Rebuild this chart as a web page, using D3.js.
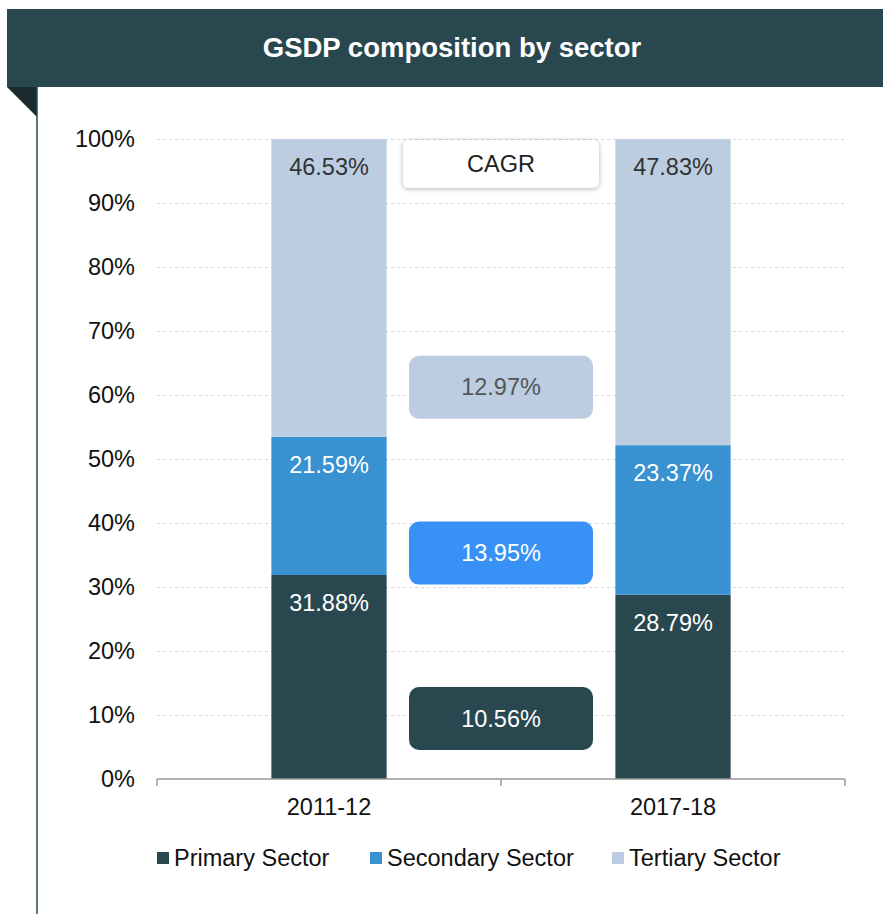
<!DOCTYPE html>
<html lang="en">
<head>
<meta charset="UTF-8"/>
<script src="https://d3js.org/d3.v7.min.js"></script>
<style>
  body { margin: 0; background: #fff; font-family: 'Liberation Sans', Arial, sans-serif; }
  svg { display: block; }
  .grid line { stroke: #d9d9d9; stroke-dasharray: 3 3; }
  .grid path { stroke-width: 0; }
  text { font-family: 'Liberation Sans', Arial, sans-serif; }
</style>
</head>
<body>
<svg width="883" height="914"></svg>
<script>
// data
const years = ['2011-12', '2017-18'];
const sectors = ['Primary Sector', 'Secondary Sector', 'Tertiary Sector'];
const primary = [31.88, 28.79];
const secondary = [21.59, 23.37];
const tertiary = [46.53, 47.83];
const cagr = [10.56, 13.95, 12.97];   // primary, secondary, tertiary
const yTicks = [0, 10, 20, 30, 40, 50, 60, 70, 80, 90, 100];

const colors = ['#29474f', '#3891d1', '#bccde2'];
const cagrColors = ['#29474f', '#3891f5', '#bccde2'];
const labelColors = ['#ffffff', '#ffffff', '#333333'];

const svg = d3.select('svg');

// header band
svg.append('rect').attr('x', 7).attr('y', 9).attr('width', 876).attr('height', 78).attr('fill', '#29474f');
svg.append('polygon').attr('points', '7,87 37,87 37,117').attr('fill', '#1a2b30');
svg.append('line').attr('x1', 37).attr('x2', 37).attr('y1', 87).attr('y2', 914)
  .attr('stroke', '#29474f').attr('stroke-width', 1.5);
svg.append('text')
  .attr('x', 452).attr('y', 57)
  .attr('text-anchor', 'middle')
  .attr('fill', '#fff')
  .style('font-size', '27.5px').style('font-weight', 'bold')
  .text('GSDP composition by sector');

const plotLeft = 157, plotRight = 845, plotTop = 139, plotBottom = 779;

const x = d3.scaleBand().domain(years).range([plotLeft, plotRight]).padding(0);
const y = d3.scaleLinear().domain([0, 100]).range([plotBottom, plotTop]);
const barW = x.bandwidth() * 0.335;

// grid
svg.append('g')
  .attr('class', 'grid')
  .attr('transform', `translate(${plotLeft},0)`)
  .call(d3.axisLeft(y).tickValues(yTicks.slice(1)).tickSize(-(plotRight - plotLeft)).tickFormat(''));

// y labels
svg.append('g').selectAll('text')
  .data(yTicks)
  .join('text')
  .attr('x', 135)
  .attr('y', d => y(d) + 8)
  .attr('text-anchor', 'end')
  .attr('fill', '#111')
  .style('font-size', '23.5px')
  .text(d => d + '%');

// stacked bars
const table = years.map((yr, i) => ({ year: yr, p: primary[i], s: secondary[i], t: tertiary[i] }));
const stack = d3.stack().keys(['p', 's', 't'])(table);

stack.forEach((layer, k) => {
  const g = svg.append('g');
  g.selectAll('rect')
    .data(layer)
    .join('rect')
    .attr('x', d => x(d.data.year) + (x.bandwidth() - barW) / 2)
    .attr('y', d => y(d[1]))
    .attr('width', barW)
    .attr('height', d => y(d[0]) - y(d[1]))
    .attr('fill', colors[k]);
  g.selectAll('text')
    .data(layer)
    .join('text')
    .attr('x', d => x(d.data.year) + x.bandwidth() / 2)
    .attr('y', d => y(d[1]) + 36)
    .attr('text-anchor', 'middle')
    .attr('fill', labelColors[k])
    .style('font-size', '23.5px')
    .text(d => (d[1] - d[0]).toFixed(2) + '%');
});

// x axis
const xAxis = svg.append('g').attr('transform', `translate(0,${plotBottom})`);
xAxis.append('line').attr('x1', plotLeft).attr('x2', plotRight).attr('stroke', '#999').attr('stroke-width', 1.5);
xAxis.selectAll('.tk')
  .data([plotLeft, (plotLeft + plotRight) / 2, plotRight])
  .join('line')
  .attr('x1', d => d).attr('x2', d => d)
  .attr('y1', 0).attr('y2', 7)
  .attr('stroke', '#999').attr('stroke-width', 1.5);
xAxis.selectAll('text')
  .data(years)
  .join('text')
  .attr('x', d => x(d) + x.bandwidth() / 2)
  .attr('y', 36)
  .attr('text-anchor', 'middle')
  .attr('fill', '#111')
  .style('font-size', '23.5px')
  .text(d => d);

// CAGR boxes
const defs = svg.append('defs');
const f = defs.append('filter').attr('id', 'shadow').attr('x', '-20%').attr('y', '-30%').attr('width', '140%').attr('height', '160%');
f.append('feDropShadow').attr('dx', 0).attr('dy', 1).attr('stdDeviation', 2.5).attr('flood-color', '#000').attr('flood-opacity', 0.3);

const midX = (plotLeft + plotRight) / 2;
svg.append('rect')
  .attr('x', midX - 98).attr('y', y(96.1) - 24)
  .attr('width', 196).attr('height', 48)
  .attr('rx', 6)
  .attr('fill', '#fff')
  .attr('filter', 'url(#shadow)');
svg.append('text')
  .attr('x', midX).attr('y', y(96.1) + 8)
  .attr('text-anchor', 'middle')
  .attr('fill', '#222')
  .style('font-size', '23.5px')
  .text('CAGR');

const boxCenters = [9.45, 35.3, 61.2]; // layout, in axis units
const boxTextColors = ['#ffffff', '#ffffff', '#555555'];
const boxes = svg.append('g').selectAll('g')
  .data(cagr)
  .join('g');
boxes.append('rect')
  .attr('x', midX - 92)
  .attr('y', (d, i) => y(boxCenters[i]) - 31.5)
  .attr('width', 184).attr('height', 63)
  .attr('rx', 10)
  .attr('fill', (d, i) => cagrColors[i]);
boxes.append('text')
  .attr('x', midX)
  .attr('y', (d, i) => y(boxCenters[i]) + 8)
  .attr('text-anchor', 'middle')
  .attr('fill', (d, i) => boxTextColors[i])
  .style('font-size', '23.5px')
  .text(d => d.toFixed(2) + '%');

// legend
const legendX = [157, 370, 612];
const legend = svg.append('g').selectAll('g')
  .data(sectors)
  .join('g')
  .attr('transform', (d, i) => `translate(${legendX[i]},858)`);
legend.append('rect')
  .attr('x', 0).attr('y', -6).attr('width', 12).attr('height', 12)
  .attr('fill', (d, i) => colors[i]);
legend.append('text')
  .attr('x', 17).attr('y', 8)
  .attr('fill', '#111')
  .style('font-size', '23.5px')
  .text(d => d);
</script>
</body>
</html>
